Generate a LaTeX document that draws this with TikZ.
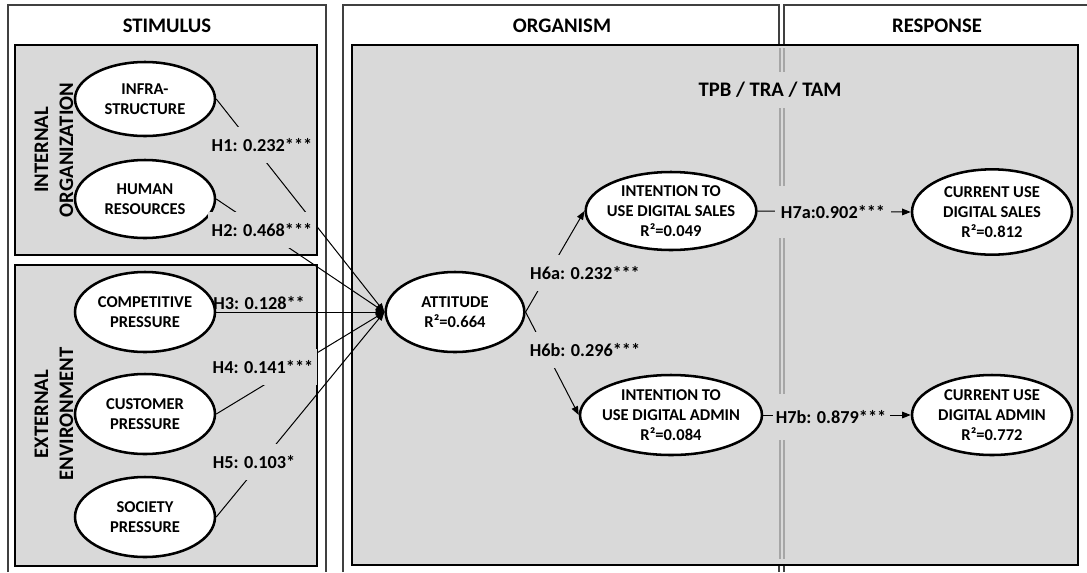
\documentclass[tikz,border=0pt]{standalone}
\usepackage{fontspec}
\setmainfont{Carlito}
\usepackage{xcolor}
\usepackage{tikz}
\usetikzlibrary{shapes.geometric,arrows.meta}
\definecolor{sorgray}{RGB}{217,217,217}
\definecolor{sorframe}{RGB}{64,64,64}
\definecolor{sordivider}{RGB}{166,166,166}

\begin{document}
\begin{tikzpicture}[x=0.75pt,y=-0.75pt,
    construct/.style={draw, ellipse, line width=1.9pt, fill=white, inner sep=0pt, align=center,
      font=\bfseries\fontsize{12.4}{14.8}\selectfont, minimum width=105pt, minimum height=58.5pt},
    coef/.style={fill=sorgray, inner sep=2.5pt, minimum height=27pt, font=\bfseries\fontsize{13.7}{16}\selectfont},
    header/.style={font=\bfseries\fontsize{15.5}{18.75}\selectfont, align=center},
    link/.style={-{Triangle[length=6.5pt,width=5pt]}, line width=0.75pt}]
            \useasboundingbox (0,0) rectangle (1087,572);

            % Frames and panels
            \draw[sorframe, line width=1.5pt] (8,572) -- (8,5) -- (326,5) -- (326,572);
            \draw[sorframe, line width=1.5pt] (343,572) -- (343,5) -- (779,5) -- (779,572);
            \draw[sorframe, line width=1.5pt] (784,572) -- (784,5) -- (1087,5);
            \draw[fill=sorgray, line width=1.5pt] (15,45) rectangle (317,255);
            \draw[fill=sorgray, line width=1.5pt] (15,265) rectangle (317,566);
            \draw[fill=sorgray, line width=1.5pt] (352,45) rectangle (1078,565);
            \draw[sordivider, line width=1.1pt] (780,48) -- (780,559);
            \draw[sordivider, line width=1.1pt] (784,48) -- (784,559);

            \node[header] (stimulus) at (167,26) {STIMULUS};
            \node[header] (organism) at (562,26) {ORGANISM};
            \node[header] (response) at (937,26) {RESPONSE};
            \node[header, rotate=90] (internal) at (54,150) {INTERNAL\\ORGANIZATION};
            \node[header, rotate=90] (external) at (54,414) {EXTERNAL\\ENVIRONMENT};

            % Constructs
            \node[construct, minimum height=55.5pt] (infra) at (145,99) {INFRA-\\STRUCTURE};
            \node[construct] (human) at (145,199) {HUMAN\\RESOURCES};
            \node[construct, minimum height=60pt] (comp) at (145,312) {COMPETITIVE\\PRESSURE};
            \node[construct, minimum height=60pt] (cust) at (145,414) {CUSTOMER\\PRESSURE};
            \node[construct, minimum height=60pt] (soc) at (145,517) {SOCIETY\\PRESSURE};
            \node[construct, minimum width=104pt, minimum height=60pt] (att) at (455,312) {ATTITUDE\\R²=0.664};
            \node[construct, inner xsep=-3.5pt, minimum width=128pt] (intsales) at (671,211) {INTENTION TO\\USE DIGITAL SALES\\R²=0.049};
            \node[construct, inner xsep=-3.5pt, minimum width=128pt, minimum height=60pt] (intadmin) at (671,415) {INTENTION TO\\USE DIGITAL ADMIN\\R²=0.084};
            \node[construct, minimum width=120pt, minimum height=64pt] (cursales) at (992,212) {CURRENT USE\\DIGITAL SALES\\R²=0.812};
            \node[construct, minimum width=120pt, minimum height=60pt] (curadmin) at (992,415) {CURRENT USE\\DIGITAL ADMIN\\R²=0.772};

            % Paths
            \draw[link] (infra.east) -- (att.west);
            \draw[link] (human.east) -- (att.west);
            \draw[link] (comp.east) -- (att.west);
            \draw[link] (cust.east) -- (att.west);
            \draw[link] (soc.east) -- (att.west);
            \draw[link] (att.east) -- (intsales.west);
            \draw[link] (att.east) -- (intadmin.west);
            \draw[link] (intsales.east) -- (cursales.west);
            \draw[link] (intadmin.east) -- (curadmin.west);

            % Coefficients
            \node[coef] (h1) at (262,145) {H1: 0.232***};
            \node[coef] (h2) at (262,230) {H2: 0.468***};
            \node[coef, fill=none, minimum height=0pt] (h3) at (259,303) {H3: 0.128**};
            \node[coef] (h4) at (263,367) {H4: 0.141***};
            \node[coef] (h5) at (254,462) {H5: 0.103*};
            \node[coef] (h6a) at (585,273) {H6a: 0.232***};
            \node[coef] (h6b) at (585,350) {H6b: 0.296***};
            \node[coef, minimum width=87pt, minimum height=39pt] (h7a) at (833,212) {H7a:0.902***};
            \node[coef, minimum width=87pt, minimum height=35pt] (h7b) at (831,417) {H7b: 0.879***};
            \node[coef, font=\bfseries\fontsize{15.5}{18}\selectfont] (theory) at (770,90) {TPB / TRA / TAM};
        \end{tikzpicture}
\end{document}
